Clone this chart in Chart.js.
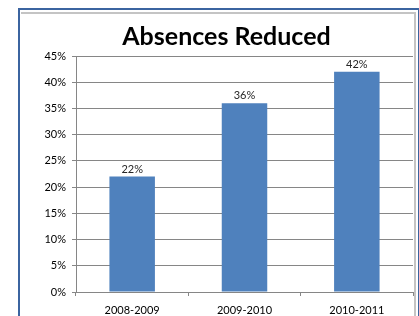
<!DOCTYPE html>
<html>
<head>
<meta charset="utf-8">
<script src="https://cdn.jsdelivr.net/npm/chart.js@4"></script>
<style>
  html, body { margin: 0; padding: 0; background: #fff; overflow: hidden; }
  #wrap { position: relative; width: 419px; height: 316px; }
  #chart { position: absolute; left: 0; top: 0; }
  .frame-outer {
    position: absolute; left: 18px; top: 8px; width: 398px; height: 330px;
    border-left: 2px solid #3b64a0; border-top: 2px solid #3b64a0; border-right: 2px solid #3b64a0;
    pointer-events: none;
  }
  .frame-inner {
    position: absolute; left: 21px; top: 12px; width: 393px; height: 330px;
    border-top: 2px solid #c4c4c4; border-right: 2px solid #c4c4c4;
    pointer-events: none;
  }
</style>
</head>
<body>
<div id="wrap">
  <canvas id="chart" width="419" height="316"></canvas>
  <div class="frame-inner"></div>
  <div class="frame-outer"></div>
</div>
<script>
const categories = ['2008-2009', '2009-2010', '2010-2011'];
const absencesReduced = [22, 36, 42];
const yTicks = [0, 5, 10, 15, 20, 25, 30, 35, 40, 45];

const fontFamily = "Lato, 'Open Sans', sans-serif";

// draws the % value above each bar
const barLabels = {
  id: 'barLabels',
  afterDatasetsDraw(chart) {
    const ctx = chart.ctx;
    const meta = chart.getDatasetMeta(0);
    ctx.save();
    ctx.font = '11px ' + fontFamily;
    ctx.fillStyle = '#262626';
    ctx.textAlign = 'center';
    ctx.textBaseline = 'bottom';
    meta.data.forEach((bar, i) => {
      ctx.fillText(absencesReduced[i] + '%', bar.x, bar.y - 2);
    });
    ctx.restore();
  }
};

const ctx = document.getElementById('chart').getContext('2d');
const chart = new Chart(ctx, {
  type: 'bar',
  data: {
    labels: categories,
    datasets: [{
      data: absencesReduced,
      backgroundColor: '#4f81bd',
      borderWidth: 0,
      barPercentage: 0.405,
      categoryPercentage: 1
    }]
  },
  options: {
    responsive: false,
    animation: false,
    events: [],
    layout: { padding: { left: 40, right: 6, top: 0, bottom: 0 } },
    plugins: {
      legend: { display: false },
      tooltip: { enabled: false },
      title: {
        display: true,
        text: 'Absences Reduced',
        color: '#000',
        font: { family: fontFamily, size: 25, weight: 'bold' },
        padding: { top: 22, bottom: 4 }
      }
    },
    scales: {
      x: {
        grid: { display: true, drawOnChartArea: false, drawTicks: true, tickLength: 4, color: '#868686', offset: true },
        border: { color: '#868686' },
        ticks: { color: '#000', font: { family: fontFamily, size: 11 }, padding: 8, maxRotation: 0 },
        afterFit(scale) { scale.height = 24; }
      },
      y: {
        min: 0,
        max: 45,
        afterBuildTicks(scale) { scale.ticks = yTicks.map(v => ({ value: v })); },
        grid: { color: '#868686', tickLength: 4 },
        border: { color: '#868686' },
        ticks: {
          color: '#000',
          font: { family: fontFamily, size: 11 },
          padding: 6,
          callback: v => v + '%'
        },
        afterFit(scale) { scale.width = 36; }
      }
    }
  },
  plugins: [barLabels]
});
</script>
</body>
</html>
